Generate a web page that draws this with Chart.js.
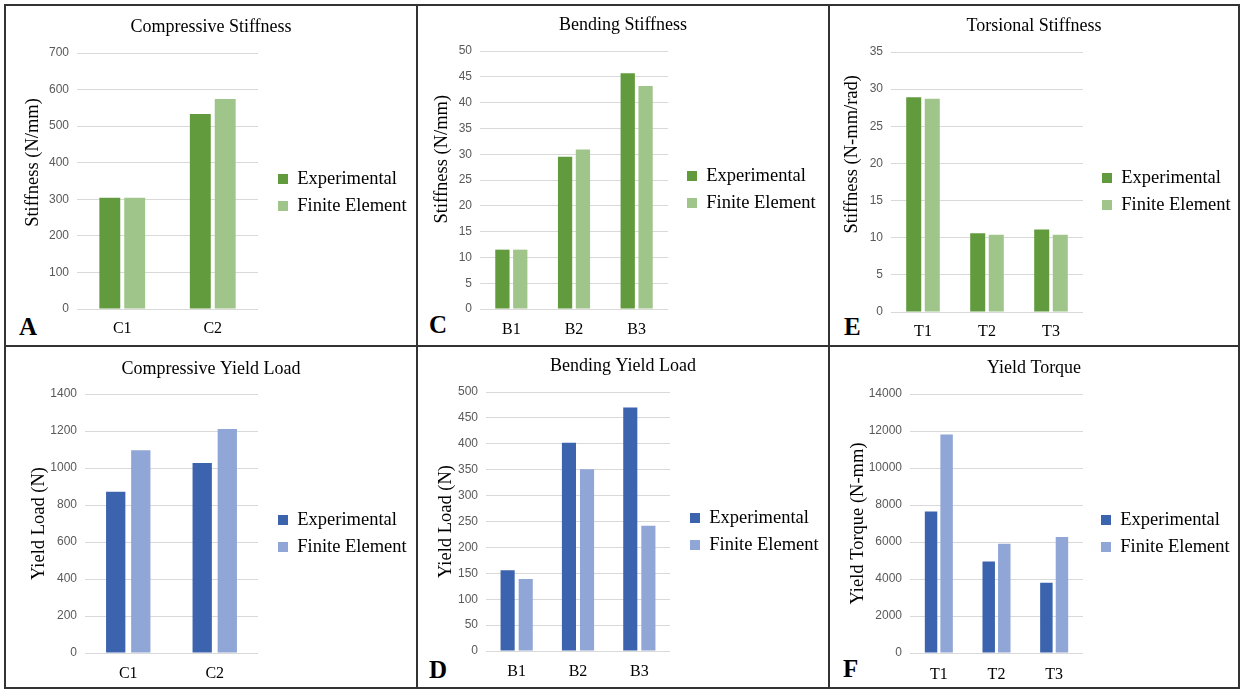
<!DOCTYPE html>
<html>
<head>
<meta charset="utf-8">
<script src="https://cdn.jsdelivr.net/npm/chart.js@4.4.1/dist/chart.umd.min.js"></script>
<style>
  body { margin: 0; background: #fff; width: 1247px; height: 690px; position: relative; overflow: hidden; }
  .ln { position: absolute; background: #333; }
  canvas { position: absolute; }
  .tag { position: absolute; font: bold 25px "Liberation Serif", "Times New Roman", serif; line-height: 25px; color: #000; }
</style>
</head>
<body>
<div class="ln" style="left:4px;top:4px;width:1236px;height:2px"></div>
<div class="ln" style="left:4px;top:687px;width:1236px;height:2px"></div>
<div class="ln" style="left:4px;top:4px;width:2px;height:685px"></div>
<div class="ln" style="left:1238px;top:4px;width:2px;height:685px"></div>
<div class="ln" style="left:416px;top:4px;width:2px;height:685px"></div>
<div class="ln" style="left:828px;top:4px;width:2px;height:685px"></div>
<div class="ln" style="left:4px;top:345px;width:1236px;height:2px"></div>

<div class="tag" style="left:19px;top:314px">A</div>
<div class="tag" style="left:429px;top:312px">C</div>
<div class="tag" style="left:844px;top:314px">E</div>
<div class="tag" style="left:429px;top:657px">D</div>
<div class="tag" style="left:843px;top:656px">F</div>

<script>
// categories
const compCats = ["C1", "C2"];
const bendCats = ["B1", "B2", "B3"];
const torCats = ["T1", "T2", "T3"];

// stiffness
const compStiffExp = [304, 533];
const compStiffFE = [304, 574];
const bendStiffExp = [11.5, 29.5, 45.7];
const bendStiffFE = [11.5, 30.9, 43.2];
const torStiffExp = [28.9, 10.6, 11.1];
const torStiffFE = [28.7, 10.4, 10.4];

// yield
const compYieldExp = [871, 1027];
const compYieldFE = [1096, 1211];
const bendYieldExp = [156, 402, 470];
const bendYieldFE = [139, 351, 242];
const torYieldExp = [7650, 4950, 3800];
const torYieldFE = [11810, 5910, 6270];

const seriesNames = ["Experimental", "Finite Element"];

const SERIF = '"Liberation Serif", "Times New Roman", serif';
const SANS = '"Liberation Sans", Arial, sans-serif';
const GREEN = ["#629b3e", "#9fc58a"];
const BLUE = ["#3c64ae", "#8fa6d6"];
const LEG_SIZE = 18.5;
const LEG_PAD = 8.5;

// moves the legend to a fixed spot right of the plot
const placeLegend = {
  id: "placeLegend",
  afterLayout(chart, args, opts) {
    const lg = chart.legend;
    if (!lg) return;
    lg.left = opts.x - LEG_PAD;
    lg.top = opts.y - LEG_SIZE / 2 - LEG_PAD;
    lg.right = chart.width;
    lg.bottom = chart.height;
  }
};

const panels = [
  { box: [6, 6, 410, 339], title: "Compressive Stiffness", yTitle: "Stiffness (N/mm)", cats: compCats,
    exp: compStiffExp, fe: compStiffFE, max: 700, step: 100, colors: GREEN,
    plot: [77, 258, 53, 309], titleY: 27, yTitleX: 33, yShift: 19, legend: [278, 179], xLabelY: 327, bar: [0.55, 0.84] },
  { box: [418, 6, 410, 339], title: "Bending Stiffness", yTitle: "Stiffness (N/mm)", cats: bendCats,
    exp: bendStiffExp, fe: bendStiffFE, max: 50, step: 5, colors: GREEN,
    plot: [480, 668, 51, 309], titleY: 25, yTitleX: 442, yShift: 20, legend: [687, 176], xLabelY: 328, bar: [0.57, 0.8] },
  { box: [830, 6, 408, 339], title: "Torsional Stiffness", yTitle: "Stiffness (N-mm/rad)", cats: torCats,
    exp: torStiffExp, fe: torStiffFE, max: 35, step: 5, colors: GREEN,
    plot: [891, 1083, 52, 312], titleY: 26, yTitleX: 852, yShift: 27, legend: [1102, 178], xLabelY: 330, bar: [0.58, 0.81] },
  { box: [6, 347, 410, 340], title: "Compressive Yield Load", yTitle: "Yield Load (N)", cats: compCats,
    exp: compYieldExp, fe: compYieldFE, max: 1400, step: 200, colors: BLUE,
    plot: [85, 258, 394, 653], titleY: 369, yTitleX: 39, yShift: 0, legend: [278, 520], xLabelY: 672, bar: [0.58, 0.77] },
  { box: [418, 347, 410, 340], title: "Bending Yield Load", yTitle: "Yield Load (N)", cats: bendCats,
    exp: bendYieldExp, fe: bendYieldFE, max: 500, step: 50, colors: BLUE,
    plot: [486, 670, 392, 651], titleY: 366, yTitleX: 446, yShift: 0, legend: [690, 518], xLabelY: 670, bar: [0.59, 0.78] },
  { box: [830, 347, 408, 340], title: "Yield Torque", yTitle: "Yield Torque (N-mm)", cats: torCats,
    exp: torYieldExp, fe: torYieldFE, max: 14000, step: 2000, colors: BLUE,
    plot: [910, 1083, 394, 653], titleY: 368, yTitleX: 858, yShift: 0, legend: [1101, 520], xLabelY: 673, bar: [0.54, 0.8] }
];

panels.forEach(function (p) {
  const [cx, cy, w, h] = p.box;
  const c = document.createElement("canvas");
  c.width = w;
  c.height = h;
  c.style.left = cx + "px";
  c.style.top = cy + "px";
  document.body.appendChild(c);

  const left = p.plot[0] - cx, right = p.plot[1] - cx, top = p.plot[2] - cy, bottom = p.plot[3] - cy;
  const tY = p.titleY - cy;
  const lead = " ".repeat(Math.round((2 * p.yShift) / (0.25 * 18.5)));

  new Chart(c, {
    type: "bar",
    data: {
      labels: p.cats,
      datasets: [
        { label: seriesNames[0], data: p.exp, backgroundColor: p.colors[0] },
        { label: seriesNames[1], data: p.fe, backgroundColor: p.colors[1] }
      ]
    },
    options: {
      responsive: false,
      animation: false,
      layout: { padding: 0 },
      datasets: { bar: { categoryPercentage: p.bar[0], barPercentage: p.bar[1] } },
      plugins: {
        title: {
          display: true, text: p.title, color: "#000",
          font: { family: SERIF, size: 18, weight: "normal" },
          padding: { top: tY - 10.8, bottom: top - tY - 10.8 }
        },
        legend: {
          position: "chartArea", align: "start",
          labels: { boxWidth: 10, boxHeight: 10, padding: LEG_PAD, color: "#000", font: { family: SERIF, size: LEG_SIZE } }
        },
        tooltip: { enabled: false },
        placeLegend: { x: p.legend[0] - cx, y: p.legend[1] - cy }
      },
      scales: {
        x: {
          grid: { display: false },
          border: { display: false },
          ticks: { color: "#000", font: { family: SERIF, size: 16 }, padding: p.xLabelY - p.plot[3] - 9.6 - 6 },
          afterFit: function (s) { s.height = h - bottom; }
        },
        y: {
          min: 0, max: p.max,
          grid: { color: "#d9d9d9", drawTicks: false },
          border: { display: false },
          ticks: { stepSize: p.step, color: "#595959", font: { family: SANS, size: 12 }, padding: 8,
                   callback: function (v) { return v; } },
          title: {
            display: true, text: lead + p.yTitle, color: "#000",
            font: { family: SERIF, size: 18.5 },
            padding: { top: p.yTitleX - cx - 11.1, bottom: 0 }
          },
          afterFit: function (s) { s.width = left; }
        },
        // empty right axis that reserves the space where the legend sits
        side: {
          position: "right",
          grid: { display: false },
          border: { display: false },
          ticks: { display: false },
          afterFit: function (s) { s.width = w - right; }
        }
      }
    },
    plugins: [placeLegend]
  });
});
</script>
</body>
</html>
